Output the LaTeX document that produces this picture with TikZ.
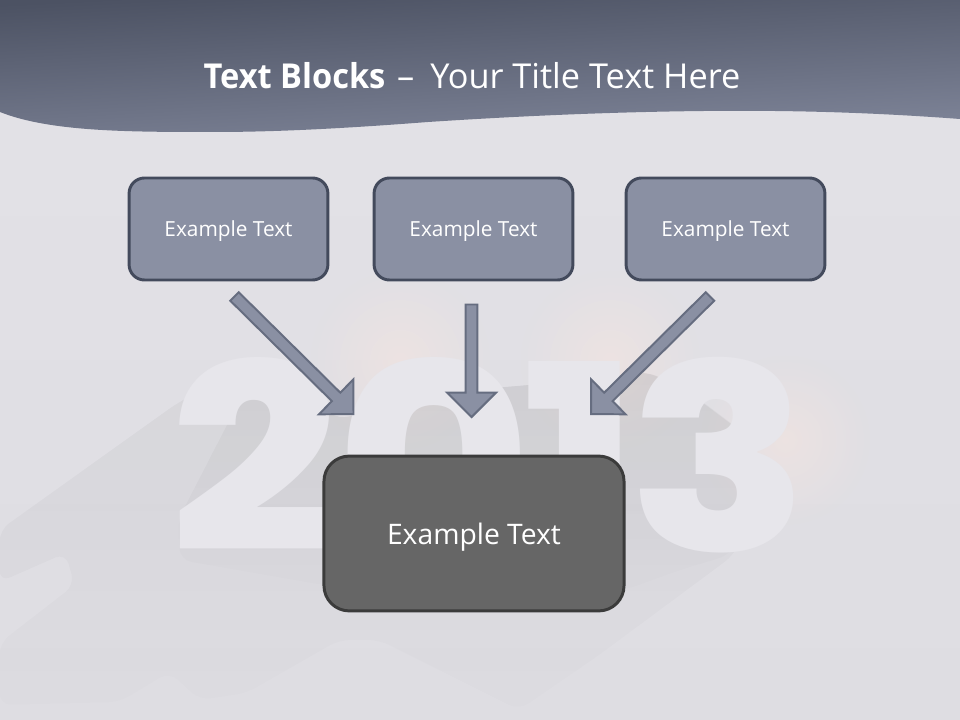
\documentclass[tikz,border=0pt]{standalone}
\usepackage{fontspec}
\setmainfont[BoldFeatures={FakeStretch=0.95}]{Open Sans}
\newfontfamily\yearfont[FakeStretch=1.14]{Poppins ExtraBold}
\usetikzlibrary{calc,fadings}
\definecolor{bgtop}{HTML}{E3E2E7}
\definecolor{bgbottom}{HTML}{DEDDE2}
\definecolor{headdark}{HTML}{4C5263}
\definecolor{headlight}{HTML}{7E8498}
\definecolor{blockfill}{HTML}{8A90A3}
\definecolor{blockline}{HTML}{434A5C}
\definecolor{arrowline}{HTML}{666D80}
\definecolor{mainfill}{HTML}{666666}
\definecolor{mainline}{HTML}{3B3B3B}
\definecolor{yearfill}{HTML}{E7E6EB}
\definecolor{glowpink}{HTML}{F9E6DF}
\tikzfading[name=softglow, inner color=transparent!50, outer color=transparent!100]
\tikzfading[name=shadowfade, top color=transparent!0, middle color=transparent!0, bottom color=transparent!85]
\newcommand{\blockarrow}[2]{
    \draw[arrowbody]
        ($(#1)!4.25pt!90:(#2)$) --
        ($($(#2)!17.4pt!(#1)$)!4.25pt!90:(#2)$) --
        ($($(#2)!17.4pt!(#1)$)!17.4pt!90:(#2)$) --
        (#2) --
        ($($(#2)!17.4pt!(#1)$)!17.4pt!-90:(#2)$) --
        ($($(#2)!17.4pt!(#1)$)!4.25pt!-90:(#2)$) --
        ($(#1)!4.25pt!-90:(#2)$) -- cycle;
}
\begin{document}
\begin{tikzpicture}[
        x=0.025cm, y=-0.025cm,
        block/.style={draw=blockline, fill=blockfill, line width=2.1pt, rounded corners=11pt, minimum width=4.97cm, minimum height=2.55cm, text=white, text height=10pt, text depth=0pt, font=\fontsize{14.8}{16}\selectfont},
        mainblock/.style={draw=mainline, fill=mainfill, line width=2.1pt, rounded corners=18pt, minimum width=7.5cm, minimum height=3.87cm, text=white, text height=16pt, text depth=0pt, font=\fontsize{20.1}{22}\selectfont},
        arrowbody/.style={draw=arrowline, fill=blockfill, line width=1.4pt, miter limit=10},
        shadowzone/.style={fill=black, opacity=0.04, path fading=shadowfade, rounded corners=8pt}
    ]
    \useasboundingbox (0,0) rectangle (960,720);

    % Background
    \shade[top color=bgtop, bottom color=bgbottom] (0,0) rectangle (960,720);

    % Glow behind the year
    \fill[glowpink, path fading=softglow] (400,360) circle (90);
    \fill[glowpink, path fading=softglow] (610,360) circle (90);
    \fill[glowpink, path fading=softglow] (785,440) circle (85);

    % Long shadow of the year
    \fill[shadowzone] (178,403) -- (0,530) -- (0,582) -- (66,553) -- (75,585) -- (0,643) -- (0,705)
        -- (120,702) -- (170,672) -- (200,700) -- (247,693) -- (340,640) -- (380,640) -- (520,710)
        -- (600,655) -- (735,555) -- (760,500) -- (740,430) -- (700,400) -- (650,372) -- (530,385)
        -- (470,390) -- (420,380) -- (345,420) -- (290,395) -- (240,370) -- cycle;
    \fill[shadowzone] (240,400) -- (290,395) -- (345,420) -- (420,380) -- (470,390) -- (530,385) -- (650,372)
        -- (700,400) -- (740,430) -- (755,500) -- (730,555) -- (680,570) -- (625,590) -- (323,585) -- (180,560) -- (178,520) -- cycle;

    % Year
    \node[anchor=base west, inner sep=0pt, text=yearfill, font=\yearfont\fontsize{185}{185}\selectfont] (year) at (170,552) {2\kern -2pt0\kern -5.6pt1\kern -7pt3};

    % Header band
    \shade[shading=axis, bottom color=headlight, top color=headdark, shading angle=3]
        (0,0) -- (960,0) -- (960,119)
        .. controls (880,113) and (800,110) .. (704,111)
        .. controls (610,112) and (520,116) .. (428,122)
        .. controls (350,128) and (280,132) .. (214,132)
        .. controls (130,132) and (50,132) .. (0,112) -- cycle;
    \node[text=white, font=\fontsize{24.4}{30}\selectfont] (title) at (472,76) {\textbf{Text Blocks}\kern 2pt{} --\kern 5pt{} Your Title Text Here};

    % Text blocks
    \node[block] (blockA) at (228.5,229) {Example Text};
    \node[block] (blockB) at (473.5,229) {Example Text};
    \node[block] (blockC) at (725.5,229) {Example Text};
    \node[mainblock] (mainbox) at (474,533.5) {Example Text};

    % Arrow ends
    \coordinate (startA) at ($(blockA.south)+(6,15)$);
    \coordinate (startB) at ($(blockB.south)+(-2,23)$);
    \coordinate (startC) at ($(blockC.south)+(-15.5,15)$);
    \coordinate (tipA) at ($(mainbox.north)+(-120.5,-40.5)$);
    \coordinate (tipB) at ($(mainbox.north)+(-2.5,-37.5)$);
    \coordinate (tipC) at ($(mainbox.north)+(117,-40.5)$);

    % Arrows
    \blockarrow{startA}{tipA}
    \blockarrow{startB}{tipB}
    \blockarrow{startC}{tipC}
\end{tikzpicture}
\end{document}
